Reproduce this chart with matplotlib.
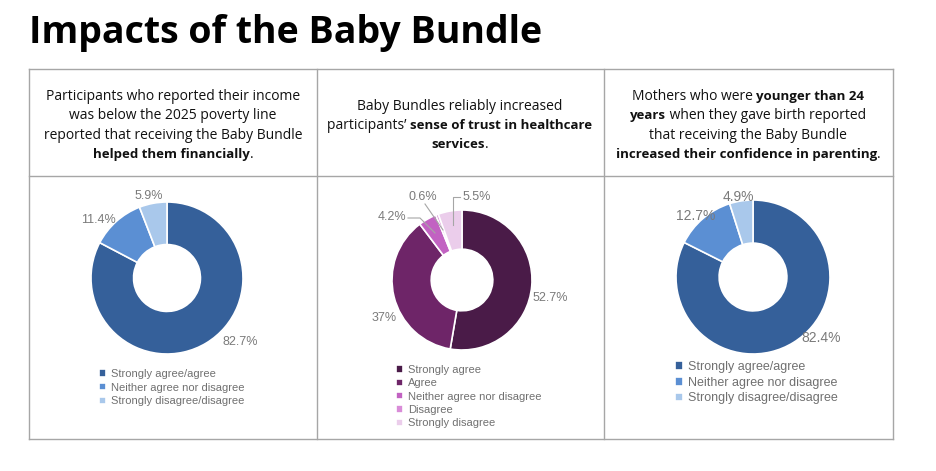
import matplotlib.pyplot as plt
from matplotlib.lines import Line2D

W, H = 936, 471

title = "Impacts of the Baby Bundle"

income_labels = ["Strongly agree/agree", "Neither agree nor disagree", "Strongly disagree/disagree"]
income_values = [82.7, 11.4, 5.9]

trust_labels = ["Strongly agree", "Agree", "Neither agree nor disagree", "Disagree", "Strongly disagree"]
trust_values = [52.7, 37, 4.2, 0.6, 5.5]

young_labels = ["Strongly agree/agree", "Neither agree nor disagree", "Strongly disagree/disagree"]
young_values = [82.4, 12.7, 4.9]

blue_colors = ["#35609a", "#5b8fd3", "#a9c8eb"]
purple_colors = ["#4a1b48", "#6e2568", "#c262c2", "#d98cd8", "#ebcdeb"]

# header texts, one list of (text, bold) runs per line
header_income = [
    [("Participants who reported their income", False)],
    [("was below the 2025 poverty line", False)],
    [("reported that receiving the Baby Bundle", False)],
    [("helped them financially", True), (".", False)],
]
header_trust = [
    [("Baby Bundles reliably increased", False)],
    [("participants\u2019 ", False), ("sense of trust in healthcare", True)],
    [("services", True), (".", False)],
]
header_young = [
    [("Mothers who were ", False), ("younger than 24", True)],
    [("years", True), (" when they gave birth reported", False)],
    [("that receiving the Baby Bundle", False)],
    [("increased their confidence in parenting", True), (".", False)],
]

FONT = "Open Sans"
LABEL_GRAY = "#7a7a7a"
LEGEND_GRAY = "#707070"
GRID = "#a6a6a6"


def fx(x):
    return x / W


def fy(y):
    return 1 - y / H


fig = plt.figure(figsize=(W / 100, H / 100), dpi=100)
renderer = fig.canvas.get_renderer()


def text_width(s, size, bold):
    w = "bold" if bold else "normal"
    t1 = fig.text(0, 0, "|" + s + "|", fontsize=size, fontweight=w, family=FONT)
    t2 = fig.text(0, 0, "||", fontsize=size, fontweight=w, family=FONT)
    width = t1.get_window_extent(renderer).width - t2.get_window_extent(renderer).width
    t1.remove()
    t2.remove()
    return width


def draw_header(lines, cx, y0, step, size=10, bold_size=9.5):
    for i, runs in enumerate(lines):
        sizes = [bold_size if b else size for s, b in runs]
        widths = [text_width(s, sz, b) for (s, b), sz in zip(runs, sizes)]
        x = cx - sum(widths) / 2
        for (s, b), sz, w in zip(runs, sizes, widths):
            fig.text(fx(x), fy(y0 + i * step), s, fontsize=sz, family=FONT,
                     fontweight="bold" if b else "normal", color="#111111",
                     ha="left", va="baseline")
            x += w


def draw_donut(values, colors, cx, cy, r):
    ax = fig.add_axes([fx(cx - r), fy(cy + r), 2 * r / W, 2 * r / H])
    wedges, _ = ax.pie(values, colors=colors, startangle=90, counterclock=False,
                       radius=1, wedgeprops=dict(width=0.56, edgecolor="white", linewidth=1.2))
    ax.set_xlim(-1, 1)
    ax.set_ylim(-1, 1)
    ax.axis("off")
    return ax, wedges


def draw_labels(values, positions, size=9):
    for v, (x, y) in zip(values, positions):
        fig.text(fx(x), fy(y), f"{v:g}%", fontsize=size, color=LABEL_GRAY,
                 family="Liberation Sans", ha="center", va="center")


def draw_legend(ax, wedges, labels, x, y, size, spacing):
    ax.legend(wedges, labels, loc="upper left", bbox_to_anchor=(fx(x), fy(y)),
              bbox_transform=fig.transFigure, frameon=False,
              labelcolor=LEGEND_GRAY, handlelength=0.65, handleheight=0.65,
              handletextpad=0.4, labelspacing=spacing, borderpad=0, borderaxespad=0,
              prop={"family": "Liberation Sans", "size": size})


# title
fig.text(fx(29), fy(33), title, fontsize=27, fontweight="bold", family=FONT,
         ha="left", va="center", color="black")

# table grid
for x in [29, 317, 604, 893]:
    fig.add_artist(Line2D([fx(x), fx(x)], [fy(69), fy(439)], color=GRID, lw=1))
for y in [69, 176, 439]:
    fig.add_artist(Line2D([fx(29), fx(893)], [fy(y), fy(y)], color=GRID, lw=1))

# headers (y of first baseline)
draw_header(header_income, 173, 100, 19.3)
draw_header(header_trust, 460, 110, 18.8)
draw_header(header_young, 748, 100, 19.3)

# donuts
ax1, w1 = draw_donut(income_values, blue_colors, 167, 278, 76)
draw_labels(income_values, [(240, 342), (98, 220), (149, 196)])
draw_legend(ax1, w1, income_labels, 99, 369, 8, 0.32)

ax2, w2 = draw_donut(trust_values, purple_colors, 462, 280, 70)
draw_labels(trust_values, [(550, 298), (384, 318), (392, 217), (423, 197), (477, 197)])
draw_legend(ax2, w2, trust_labels, 396, 365, 8, 0.3)

# leader lines for the small slices
leaders = [
    [(408, 218), (420, 218), (435, 233)],
    [(425, 204), (443, 230)],
    [(460, 197), (453, 197), (453, 225)],
]
for pts in leaders:
    fig.add_artist(Line2D([fx(p[0]) for p in pts], [fy(p[1]) for p in pts],
                          color="#a6a6a6", lw=0.8))

ax3, w3 = draw_donut(young_values, blue_colors, 753, 277, 77)
draw_labels(young_values, [(821, 338), (696, 216), (738, 197)], size=10)
draw_legend(ax3, w3, young_labels, 675, 361, 9, 0.3)

fig.savefig("out.png", dpi=100)
